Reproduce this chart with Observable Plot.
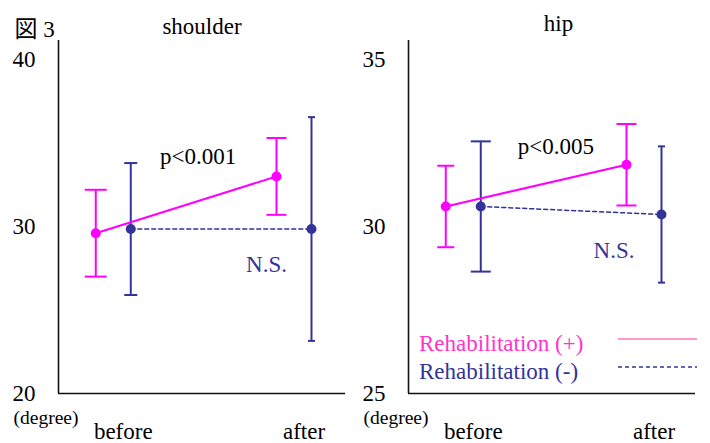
<!DOCTYPE html>
<html><head><meta charset="utf-8">
<script src="https://cdn.jsdelivr.net/npm/d3@7"></script>
<script src="https://cdn.jsdelivr.net/npm/@observablehq/plot@0.6"></script>
<style>
body{margin:0;background:#fff;}
#wrap{position:relative;width:710px;height:443px;overflow:hidden;font-family:"Liberation Serif","Noto Sans CJK JP",serif;}
#wrap > *{position:absolute;top:0;}
#wrap svg, #wrap svg text{font-family:"Liberation Serif","Noto Sans CJK JP",serif !important;}
</style></head><body><div id="wrap"></div>
<script>
// ---- data ----
const figureLabel = "図 3";
const panelTitles = ["shoulder", "hip"];
const timepoints = ["before", "after"];
const groups = ["Rehabilitation (+)", "Rehabilitation (-)"];
const shoulderPlusMean = [29.6, 33.0];
const shoulderPlusSD = [2.6, 2.3];
const shoulderMinusMean = [29.85, 29.85];
const shoulderMinusSD = [3.95, 6.7];
const hipPlusMean = [30.6, 31.85];
const hipPlusSD = [1.22, 1.22];
const hipMinusMean = [30.6, 30.36];
const hipMinusSD = [1.95, 2.04];
const shoulderTicks = [20, 30, 40];
const hipTicks = [25, 30, 35];
const pLabels = ["p<0.001", "p<0.005"];
const nsLabel = "N.S.";
const unitLabel = "(degree)";

// ---- style ----
const MAG = "#ff00ff", MAG_TXT = "#ff33cc", MAG_LEG = "#ff99cc", NAVY = "#333399";
const FONT = "Liberation Serif";
const xDomain = [-0.303, 1.285];
const OFF = 17.5;

// custom horizontal cap symbol (half-width = r)
const capSymbol = {draw(ctx, size) { const w = Math.sqrt(size / Math.PI); ctx.moveTo(-w, 0); ctx.lineTo(w, 0); }};

function rows(mean, sd) {
  return timepoints.map((t, i) => ({i, t, mean: mean[i], lo: mean[i] - sd[i], hi: mean[i] + sd[i]}));
}

function panel(o) {
  const plus = rows(o.plusMean, o.plusSD), minus = rows(o.minusMean, o.minusSD);
  const series = [
    {d: minus, c: NAVY, dx: OFF, cap: o.navyCap, dash: "4,3", w: 1.5},
    {d: plus, c: MAG, dx: -OFF, cap: o.magCap, dash: null, w: 2}
  ];
  const marks = [];
  for (const s of series) {
    marks.push(Plot.ruleX(s.d, {x: "i", y1: "lo", y2: "hi", stroke: s.c, strokeWidth: 2, dx: s.dx}));
    marks.push(Plot.dot(s.d, {x: "i", y: "hi", symbol: capSymbol, r: d => s.cap[d.i], stroke: s.c, strokeWidth: 2, dx: s.dx}));
    marks.push(Plot.dot(s.d, {x: "i", y: "lo", symbol: capSymbol, r: d => s.cap[d.i], stroke: s.c, strokeWidth: 2, dx: s.dx}));
  }
  for (const s of series.slice().reverse()) {
    marks.push(Plot.line(s.d, {x: "i", y: "mean", stroke: s.c, strokeWidth: s.w, strokeDasharray: s.dash, dx: s.dx}));
  }
  for (const s of series.slice().reverse()) {
    marks.push(Plot.dot(s.d, {x: "i", y: "mean", r: 5, fill: s.c, stroke: "none", dx: s.dx}));
  }
  marks.push(
    Plot.ruleY([o.yDomain[0]], {stroke: "#111", strokeWidth: 1.6}),
    Plot.ruleX([xDomain[0]], {stroke: "#111", strokeWidth: 1.6}),
    Plot.axisY({ticks: o.ticks, tickSize: 0, tickPadding: 23, fill: "#000", label: null, fontFamily: FONT}),
    Plot.axisX({ticks: [0, 1], tickFormat: i => timepoints[i], tickSize: 0, tickPadding: 29, dx: 10, fill: "#000", label: null, fontFamily: FONT}),
    Plot.text([o.title], {frameAnchor: "top", dx: o.titleDx, dy: o.titleDy, lineAnchor: "bottom", fill: "#000", fontFamily: FONT}),
    Plot.text([unitLabel], {frameAnchor: "bottom-left", dx: -45, dy: 30, textAnchor: "start", lineAnchor: "bottom", fontSize: 19.5, fill: "#000", fontFamily: FONT}),
    Plot.text([o.pLabel], {x: o.pPos[0], y: o.pPos[1], lineAnchor: "bottom", fill: "#000", fontFamily: FONT}),
    Plot.text([nsLabel], {x: o.nsPos[0], y: o.nsPos[1], lineAnchor: "bottom", fill: NAVY, fontFamily: FONT})
  );
  if (o.extra) marks.push(...o.extra);
  return Plot.plot({
    width: 355, height: 443,
    marginLeft: o.mLeft, marginRight: o.mRight, marginTop: 40, marginBottom: 50,
    x: {type: "linear", domain: xDomain, axis: null, label: null},
    y: {domain: o.yDomain, axis: null, label: null},
    r: {type: "identity"},
    style: {fontSize: "23px", color: "#000", background: "transparent", overflow: "visible"},
    marks
  });
}

const left = panel({
  title: panelTitles[0], titleDx: 0, titleDy: -7,
  plusMean: shoulderPlusMean, plusSD: shoulderPlusSD, minusMean: shoulderMinusMean, minusSD: shoulderMinusSD,
  yDomain: [20, 41.14], ticks: shoulderTicks, pLabel: pLabels[0], pPos: [0.47, 33.77], nsPos: [0.848, 27.25],
  mLeft: 58, mRight: 10, magCap: [11, 10], navyCap: [6.5, 3.5],
  extra: [Plot.text([figureLabel], {frameAnchor: "top-left", dx: -44, dy: -4, textAnchor: "start", lineAnchor: "bottom", fill: "#000", fontSize: 23})]
});
const right = panel({
  title: panelTitles[1], titleDx: 6.5, titleDy: -10,
  plusMean: hipPlusMean, plusSD: hipPlusSD, minusMean: hipMinusMean, minusSD: hipMinusSD,
  yDomain: [25, 35.57], ticks: hipTicks, pLabel: pLabels[1], pPos: [0.512, 32.16], nsPos: [0.834, 29.07],
  mLeft: 53, mRight: 15, magCap: [8.5, 10], navyCap: [10, 3.5]
});
left.style.left = "0px";
right.style.left = "355px";
const wrap = document.getElementById("wrap");
wrap.append(left, right);

// legend
const leg = d3.create("svg").attr("width", 355).attr("height", 443).style("left", "355px").style("font-size", "23px");
const legendItems = [
  {label: groups[0], color: MAG_TXT, line: MAG_LEG, dash: null, w: 2, ty: 351, ly: 339},
  {label: groups[1], color: NAVY, line: NAVY, dash: "4,3", w: 1.5, ty: 379, ly: 367}
];
for (const it of legendItems) {
  leg.append("text").attr("x", 64).attr("y", it.ty).attr("fill", it.color).text(it.label);
  leg.append("line").attr("x1", 263).attr("x2", 342).attr("y1", it.ly).attr("y2", it.ly)
    .attr("stroke", it.line).attr("stroke-width", it.w).attr("stroke-dasharray", it.dash);
}
wrap.append(leg.node());
</script></body></html>
